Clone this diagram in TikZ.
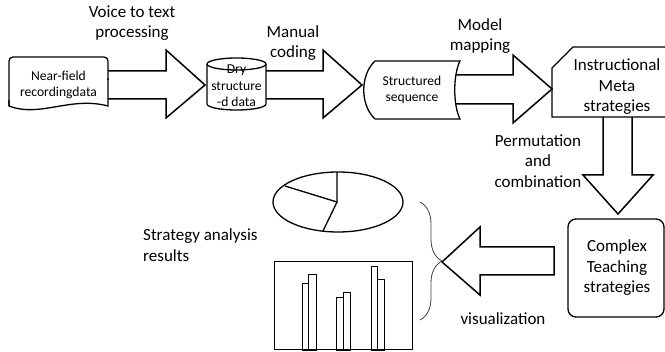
\documentclass[tikz,border=0pt]{standalone}
\usepackage{fontspec}
\setmainfont{Carlito}
\usepackage{tikz}
\usetikzlibrary{positioning,calc,decorations.pathreplacing}
\tikzset{
  shp/.style    ={draw, line width=1.3pt},
  barr/.style   ={draw, line width=1.5pt, line join=miter},
  biglbl/.style ={align=center, font=\fontsize{17}{20.5}\selectfont},
  smllbl/.style ={align=center, font=\fontsize{13.6}{16.6}\selectfont},
  chartbar/.style ={draw, line width=0.8pt},
}

\begin{document}
\begin{tikzpicture}[x=1pt, y=-1pt, inner sep=0pt]
  \useasboundingbox (0,0) rectangle (665,352);

  % source shapes
  \draw[shp, rounded corners=4pt] (9,106) -- (9,57) -- (108,57) -- (108,80);
  \draw[shp] (108,78) -- (108,106) .. controls (70,96) and (40,118) .. (9,106) -- (9,100);
  \node[smllbl] (nearfield) at (58.5,85) {Near-field\\recordingdata};

  \draw[shp] (207,64) -- (207,104) arc[start angle=180, end angle=360, x radius=29.5pt, y radius=6pt] -- (266,64);
  \draw[shp] (236.5,64) ellipse[x radius=29.5pt, y radius=6pt];
  \node[smllbl] (drydata) at (236.5,86) {Dry\\structure\\-d data};

  \draw[shp] (375,61) -- (460,61) .. controls (453,75) and (453,105) .. (460,119) -- (375,119) .. controls (360,105) and (360,75) .. cycle;
  \node[smllbl] (structseq) at (412,90) {Structured\\sequence};

  \draw[shp] (668,47) -- (573,47) -- (552,68) -- (552,117) -- (668,117);
  \node[biglbl] (metastrat) at (617,87) {Instructional\\Meta\\strategies};

  \draw[shp, rounded corners=8pt] (568,219) rectangle (664,317);
  \node[biglbl] (complexstrat) at (617,268) {Complex\\Teaching\\strategies};

  % block arrows
  \draw[barr] (108,71) -- (166,71) -- (166,50) -- (205,85) -- (166,118) -- (166,99) -- (108,99);
  \draw[barr] (266,71) -- (323,71) -- (323,50) -- (362,85) -- (323,118) -- (323,99) -- (266,99);
  \draw[barr] (455.5,75) -- (513,75) -- (513,55) -- (552,89) -- (513,123) -- (513,104) -- (455.5,104);
  \draw[barr] (603,117) -- (603,175) -- (583,175) -- (618,214) -- (653,175) -- (632,175) -- (632,117);
  \draw[barr] (554,247) -- (480,247) -- (480,227) -- (442,262) -- (480,295) -- (480,275) -- (554,275) -- cycle;

  \node[biglbl] (voicelbl) at (132,23) {Voice to text\\processing};
  \node[biglbl] (manuallbl) at (293,43) {Manual\\coding};
  \node[biglbl] (modellbl) at (480,36) {Model\\mapping};
  \node[biglbl] (permlbl) at (538,161) {Permutation\\and\\combination};
  \node[biglbl] (vislbl) at (503,319) {visualization};
  \node[biglbl, align=left, anchor=west] (resultlbl) at (143,245) {Strategy analysis\\results};

  % pie chart
  \coordinate (piec) at (337,202);
  \draw[shp] (338,202) ellipse[x radius=65pt, y radius=30pt];
  \draw[shp] (337,172) -- (piec) -- (285,186);
  \draw[shp] (piec) -- (323,231);

  % bar chart
  \draw[line width=1pt] (274,262) rectangle (412,350);
  \draw[chartbar] (302,350) rectangle (308,283);
  \draw[chartbar] (308,350) rectangle (316,274);
  \draw[chartbar] (336,350) rectangle (343,297);
  \draw[chartbar] (343,350) rectangle (350,292);
  \draw[chartbar] (371,350) rectangle (377,266);
  \draw[chartbar] (377,350) rectangle (384,279);

  \draw[black!75, line width=0.8pt, decorate, decoration={brace, amplitude=22pt}] (420,202) -- (420,320);
\end{tikzpicture}
\end{document}
